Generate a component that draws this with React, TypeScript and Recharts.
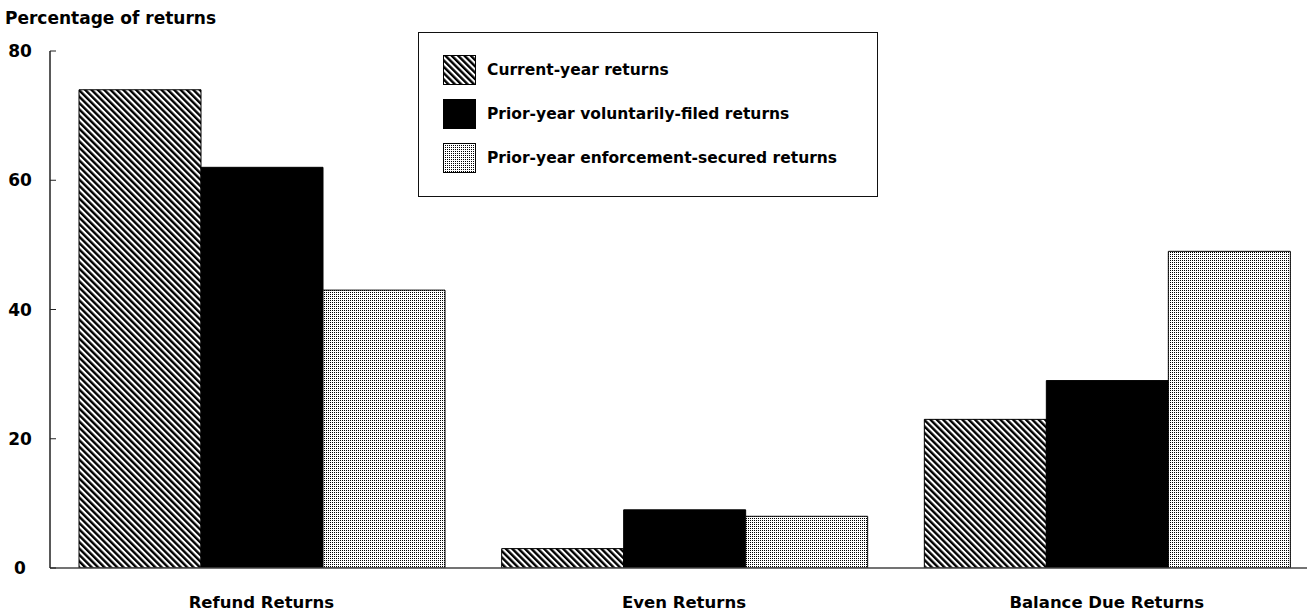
import { Bar, BarChart, XAxis, YAxis } from "recharts";

// Data
const categories = ["Refund Returns", "Even Returns", "Balance Due Returns"];
const currentYear = [74, 3, 23];
const priorVoluntary = [62, 9, 29];
const priorEnforcement = [43, 8, 49];
const seriesNames = [
  "Current-year returns",
  "Prior-year voluntarily-filed returns",
  "Prior-year enforcement-secured returns",
];
const yTicks = [0, 20, 40, 60, 80];

const data = categories.map((name, i) => ({
  name,
  current: currentYear[i],
  voluntary: priorVoluntary[i],
  enforcement: priorEnforcement[i],
}));

const FONT = "'DejaVu Sans', 'Liberation Sans', Arial, sans-serif";
const Y_AXIS_W = 50;
const fills = ["url(#stripes)", "#000", "url(#dots)"];

function YTick({ y, payload }: { y?: number; payload?: { value: number } }) {
  if (y === undefined || !payload) return null;
  return (
    <g>
      <line x1={Y_AXIS_W} x2={Y_AXIS_W + 6} y1={y} y2={y} stroke="#222" />
      <text
        x={20}
        y={y}
        dy={6}
        textAnchor="middle"
        fontFamily={FONT}
        fontWeight="bold"
        fontSize={17}
        fill="#000"
      >
        {payload.value}
      </text>
    </g>
  );
}

function XTick({ x, y, payload }: { x?: number; y?: number; payload?: { value: string } }) {
  if (x === undefined || y === undefined || !payload) return null;
  return (
    <text
      x={x}
      y={y}
      dy={32}
      textAnchor="middle"
      fontFamily={FONT}
      fontWeight="bold"
      fontSize={16.5}
      fill="#000"
    >
      {payload.value}
    </text>
  );
}

// Legend box drawn over the plot, top centre-left (as in the source figure)
function LegendBox() {
  return (
    <div
      style={{
        position: "absolute",
        left: 418,
        top: 32,
        width: 460,
        height: 165,
        border: "1px solid #111",
        background: "#fff",
        boxSizing: "border-box",
        paddingTop: 22,
        paddingLeft: 24,
        zIndex: 2,
      }}
    >
      {seriesNames.map((n, i) => (
        <div
          key={n}
          style={{ display: "flex", alignItems: "center", height: 30, marginBottom: 14 }}
        >
          <svg width={33} height={30} style={{ display: "block" }}>
            <rect x={0.5} y={0.5} width={32} height={29} fill={fills[i]} stroke="#000" />
          </svg>
          <span
            style={{
              marginLeft: 11,
              fontFamily: FONT,
              fontWeight: "bold",
              fontSize: 15.5,
              color: "#000",
            }}
          >
            {n}
          </span>
        </div>
      ))}
    </div>
  );
}

export default function App() {
  return (
    <div style={{ position: "relative", width: 1307, height: 613, overflow: "hidden", background: "#fff" }}>
      <style>{`body{margin:0;overflow:hidden}`}</style>
      <div
        style={{
          position: "absolute",
          left: 5,
          top: 8,
          fontFamily: FONT,
          fontWeight: "bold",
          fontSize: 17,
          color: "#000",
          zIndex: 2,
        }}
      >
        Percentage of returns
      </div>
      <LegendBox />
      <BarChart
        width={1318}
        height={613}
        data={data}
        margin={{ top: 51, right: 0, bottom: 0, left: 0 }}
        barCategoryGap={29}
        barGap={0}
        accessibilityLayer={false}
      >
        <defs>
          <pattern
            id="stripes"
            width={4.5}
            height={4.5}
            patternUnits="userSpaceOnUse"
            patternTransform="rotate(-45)"
          >
            <rect x={0} y={0} width={4.5} height={4.5} fill="#fff" />
            <rect x={0} y={0} width={2.4} height={4.5} fill="#000" />
          </pattern>
          <pattern id="dots" width={2} height={2} patternUnits="userSpaceOnUse">
            <rect x={0} y={0} width={2} height={2} fill="#fff" />
            <rect x={0} y={0} width={1} height={1} fill="#000" shapeRendering="crispEdges" />
          </pattern>
        </defs>
        <XAxis
          dataKey="name"
          axisLine={{ stroke: "#444", strokeWidth: 1.5 }}
          tickLine={false}
          height={45}
          tick={<XTick />}
          interval={0}
        />
        <YAxis
          domain={[0, 80]}
          ticks={yTicks}
          width={Y_AXIS_W}
          axisLine={{ stroke: "#222", strokeWidth: 1.5 }}
          tickLine={false}
          tick={<YTick />}
          allowDataOverflow
        />
        <Bar dataKey="current" name={seriesNames[0]} fill={fills[0]} stroke="#000" strokeWidth={1} isAnimationActive={false} />
        <Bar dataKey="voluntary" name={seriesNames[1]} fill={fills[1]} stroke="#000" strokeWidth={1} isAnimationActive={false} />
        <Bar dataKey="enforcement" name={seriesNames[2]} fill={fills[2]} stroke="#000" strokeWidth={1} isAnimationActive={false} />
      </BarChart>
    </div>
  );
}
